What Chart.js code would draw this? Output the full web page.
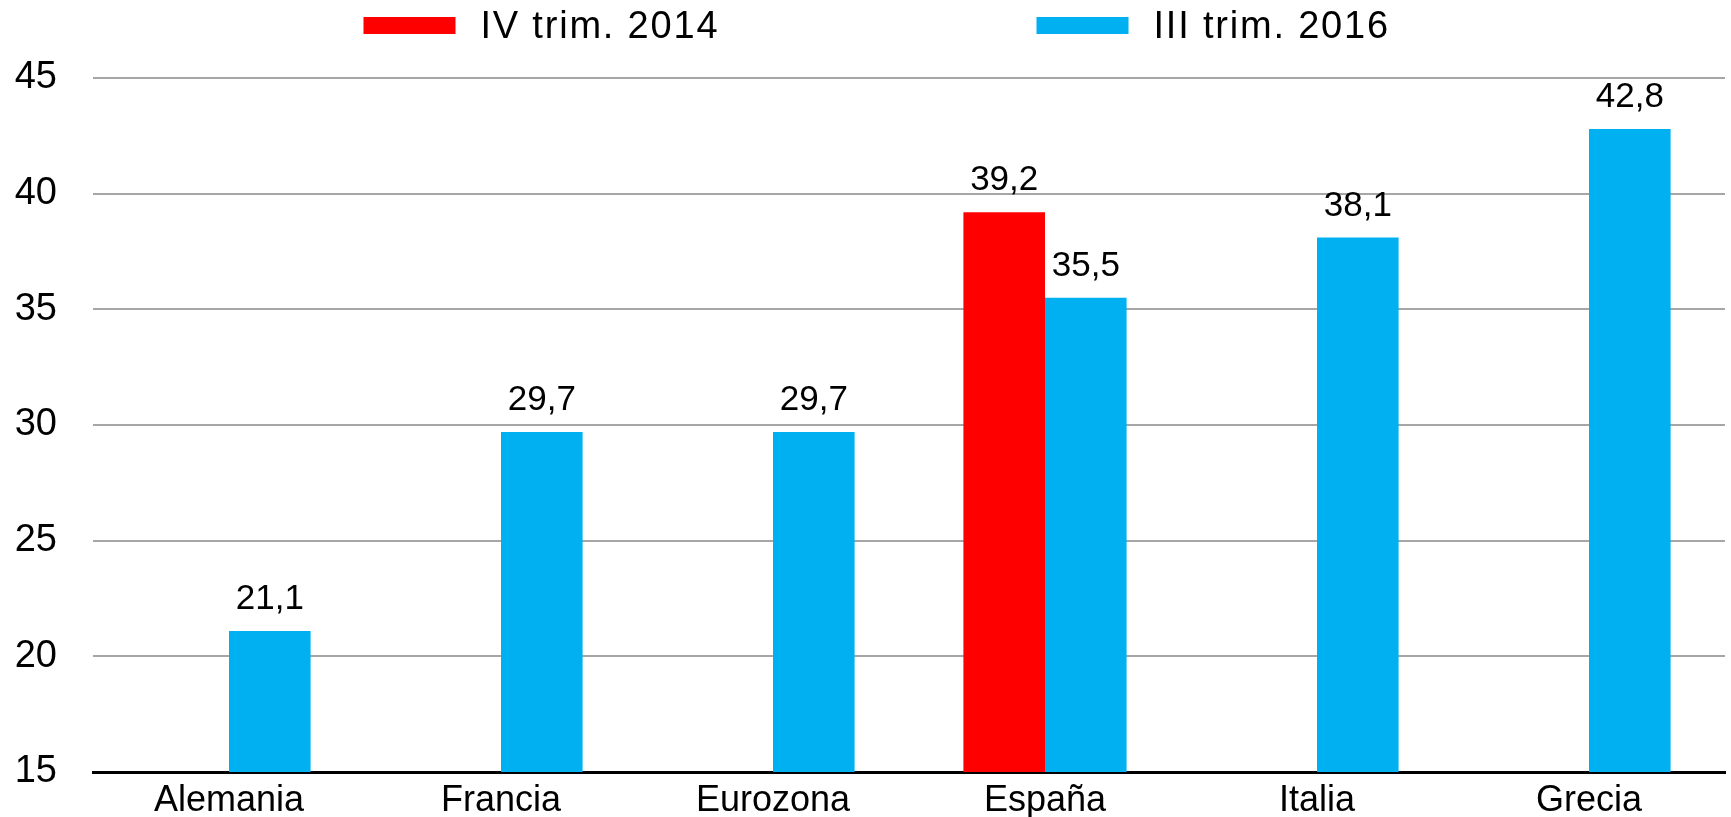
<!DOCTYPE html>
<html>
<head>
<meta charset="utf-8">
<script src="https://cdn.jsdelivr.net/npm/chart.js@4/dist/chart.umd.min.js"></script>
<style>
  html, body { margin: 0; padding: 0; background: #fff; }
  #wrap { width: 1731px; height: 817px; }
</style>
</head>
<body>
<div id="wrap"><canvas id="c" width="1731" height="817"></canvas></div>
<script>
const categories = ['Alemania', 'Francia', 'Eurozona', 'España', 'Italia', 'Grecia'];
const seriesLabels = ['IV trim. 2014', 'III trim. 2016'];
const valuesIV2014 = [null, null, null, 39.2, null, null];
const valuesIII2016 = [21.1, 29.7, 29.7, 35.5, 38.1, 42.8];
const yTicks = [15, 20, 25, 30, 35, 40, 45];

const FONT = "'Liberation Sans', Arial, sans-serif";

const valueLabels = {
  id: 'valueLabels',
  afterDatasetsDraw(chart) {
    const ctx = chart.ctx;
    ctx.save();
    ctx.font = '35px ' + FONT;
    ctx.fillStyle = '#000';
    ctx.textAlign = 'center';
    ctx.textBaseline = 'alphabetic';
    chart.data.datasets.forEach((ds, di) => {
      const meta = chart.getDatasetMeta(di);
      meta.data.forEach((bar, i) => {
        const v = ds.data[i];
        if (v === null || v === undefined) return;
        ctx.fillText(v.toFixed(1).replace('.', ','), bar.x, bar.y - 22);
      });
    });
    ctx.restore();
  }
};

const customLegend = {
  id: 'customLegend',
  afterDraw(chart) {
    const ctx = chart.ctx;
    ctx.save();
    ctx.font = '38px ' + FONT;
    if ('letterSpacing' in ctx) ctx.letterSpacing = '1.8px';
    const boxW = 92, boxH = 17, textGap = 25, itemStep = 673;
    let x = chart.width / 2 + 10 - 512;
    chart.data.datasets.forEach((ds) => {
      ctx.fillStyle = ds.backgroundColor;
      ctx.fillRect(x, 17, boxW, boxH);
      ctx.fillStyle = '#000';
      ctx.textAlign = 'left';
      ctx.textBaseline = 'alphabetic';
      ctx.fillText(ds.label, x + boxW + textGap, 38);
      x += itemStep;
    });
    ctx.restore();
  }
};

new Chart(document.getElementById('c'), {
  type: 'bar',
  data: {
    labels: categories,
    datasets: [
      { label: seriesLabels[0], data: valuesIV2014, backgroundColor: '#ff0000' },
      { label: seriesLabels[1], data: valuesIII2016, backgroundColor: '#00b0f0' }
    ]
  },
  options: {
    responsive: false,
    animation: false,
    devicePixelRatio: 1,
    layout: { padding: { top: 78, right: 6, bottom: 0, left: 0 } },
    datasets: { bar: { categoryPercentage: 0.6, barPercentage: 1.0 } },
    plugins: { legend: { display: false }, tooltip: { enabled: false } },
    scales: {
      x: {
        grid: { display: false, drawTicks: false },
        border: { display: true, color: '#000', width: 3 },
        ticks: { color: '#000', font: { family: FONT, size: 36 }, padding: 7 },
        afterFit(axis) { axis.paddingLeft = 0; axis.paddingRight = 0; axis.height = 45; }
      },
      y: {
        min: yTicks[0],
        max: yTicks[yTicks.length - 1],
        afterBuildTicks(axis) { axis.ticks = yTicks.map(v => ({ value: v })); },
        grid: { color: '#a6a6a6', lineWidth: 2, drawTicks: false },
        border: { display: false },
        ticks: { color: '#000', font: { family: FONT, size: 38 }, padding: 36 },
        afterFit(axis) { axis.width = 93; axis.paddingTop = 0; axis.paddingBottom = 0; }
      }
    }
  },
  plugins: [valueLabels, customLegend]
});
</script>
</body>
</html>
